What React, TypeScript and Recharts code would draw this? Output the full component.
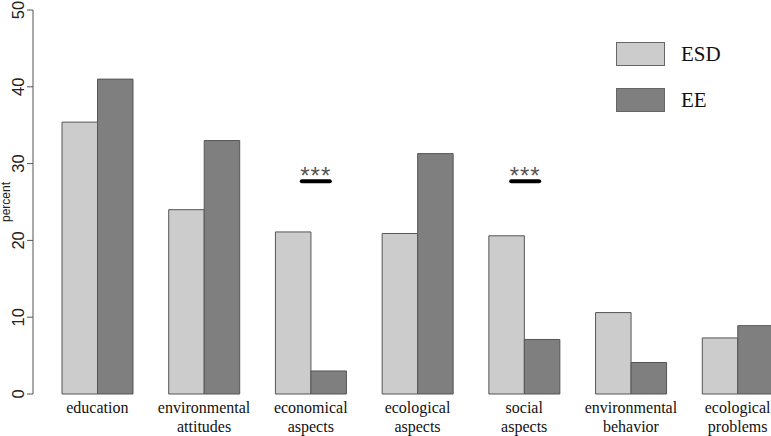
import { BarChart, Bar, XAxis, YAxis, Legend, ReferenceDot, Label } from 'recharts'

const categories = [
  ['education'],
  ['environmental', 'attitudes'],
  ['economical', 'aspects'],
  ['ecological', 'aspects'],
  ['social', 'aspects'],
  ['environmental', 'behavior'],
  ['ecological', 'problems'],
]
const esd = [35.4, 24.0, 21.1, 20.9, 20.6, 10.6, 7.3]
const ee = [41.0, 33.0, 3.0, 31.3, 7.1, 4.1, 8.9]
const yTicks = [0, 10, 20, 30, 40, 50]
const seriesNames = ['ESD', 'EE']
const seriesColors = ['#cccccc', '#7f7f7f']
// groups marked as significant, with the marker's height
const signif = [
  { cat: 'economical aspects', y: 27.7, dx: 5 },
  { cat: 'social aspects', y: 27.7, dx: 1 },
]

const data = categories.map((c, i) => ({ name: c.join(' '), ESD: esd[i], EE: ee[i] }))

const serif = '"Liberation Serif", "Times New Roman", Times, serif'
const sans = '"Liberation Sans", Arial, sans-serif'

function CatTick({ x, y, payload }: any) {
  const lines = payload.value.split(' ')
  return (
    <text x={x} y={y} textAnchor="middle" style={{ fontFamily: serif, fontSize: 16 }} fill="#111">
      {lines.map((l: string, i: number) => (
        <tspan key={i} x={x} y={y + 11 + i * 19}>{l}</tspan>
      ))}
    </text>
  )
}

function ValTick({ y, payload }: any) {
  return (
    <text x={24} y={y} transform={`rotate(-90, 24, ${y})`} textAnchor="middle"
      style={{ fontFamily: sans, fontSize: 16.5 }} fill="#222">
      {payload.value}
    </text>
  )
}

function SigMark({ cx, cy, dx }: any) {
  const x = cx + dx
  return (
    <g>
      <text x={x} y={cy + 3} textAnchor="middle" style={{ fontFamily: sans, fontSize: 24 }} fill="#555" letterSpacing={1}>***</text>
      <line x1={x - 14} x2={x + 14} y1={cy} y2={cy} stroke="#000" strokeWidth={4} strokeLinecap="round" />
    </g>
  )
}

function LegendBox() {
  return (
    <svg width={120} height={80} style={{ overflow: 'visible', display: 'block' }}>
      {seriesNames.map((s, i) => (
        <g key={s}>
          <rect x={0.5} y={0.5 + i * 46} width={48} height={23} fill={seriesColors[i]} stroke="#666" />
          <text x={65} y={19 + i * 46} style={{ fontFamily: serif, fontSize: 21 }} fill="#111">{s}</text>
        </g>
      ))}
    </svg>
  )
}

export default function App() {
  return (
    <div style={{ position: 'absolute', left: 0, top: 0, width: 771, height: 436, overflow: 'hidden', background: '#fff' }}>
      <BarChart width={800} height={436} data={data} margin={{ top: 10, right: 9, bottom: 0, left: 0 }}
        barSize={35.5} barGap={0}>
        <XAxis dataKey="name" axisLine={false} tickLine={false} height={42} interval={0}
          padding={{ left: 11, right: 0 }} tick={<CatTick />} />
        <YAxis domain={[0, 50]} ticks={yTicks} width={33} tickSize={6} stroke="#555"
          tickLine={{ stroke: '#555' }} axisLine={{ stroke: '#555' }} tick={<ValTick />} interval={0}>
          <Label content={({ viewBox }: any) => (
            <text x={10} y={viewBox.y + viewBox.height / 2} transform={`rotate(-90, 10, ${viewBox.y + viewBox.height / 2})`}
              textAnchor="middle" style={{ fontFamily: sans, fontSize: 12 }} fill="#222">percent</text>
          )} />
        </YAxis>
        <Legend layout="vertical" align="center" verticalAlign="middle" content={<LegendBox />}
          wrapperStyle={{ left: 616, top: 42, width: 120, height: 80 }} />
        {seriesNames.map((s, i) => (
          <Bar key={s} dataKey={s} name={s} fill={seriesColors[i]} stroke="#555" strokeWidth={1} isAnimationActive={false} />
        ))}
        {signif.map((m) => (
          <ReferenceDot key={m.cat} x={m.cat} y={m.y} r={0} ifOverflow="visible"
            shape={(p: any) => <SigMark {...p} dx={m.dx} />} />
        ))}
      </BarChart>
    </div>
  )
}
